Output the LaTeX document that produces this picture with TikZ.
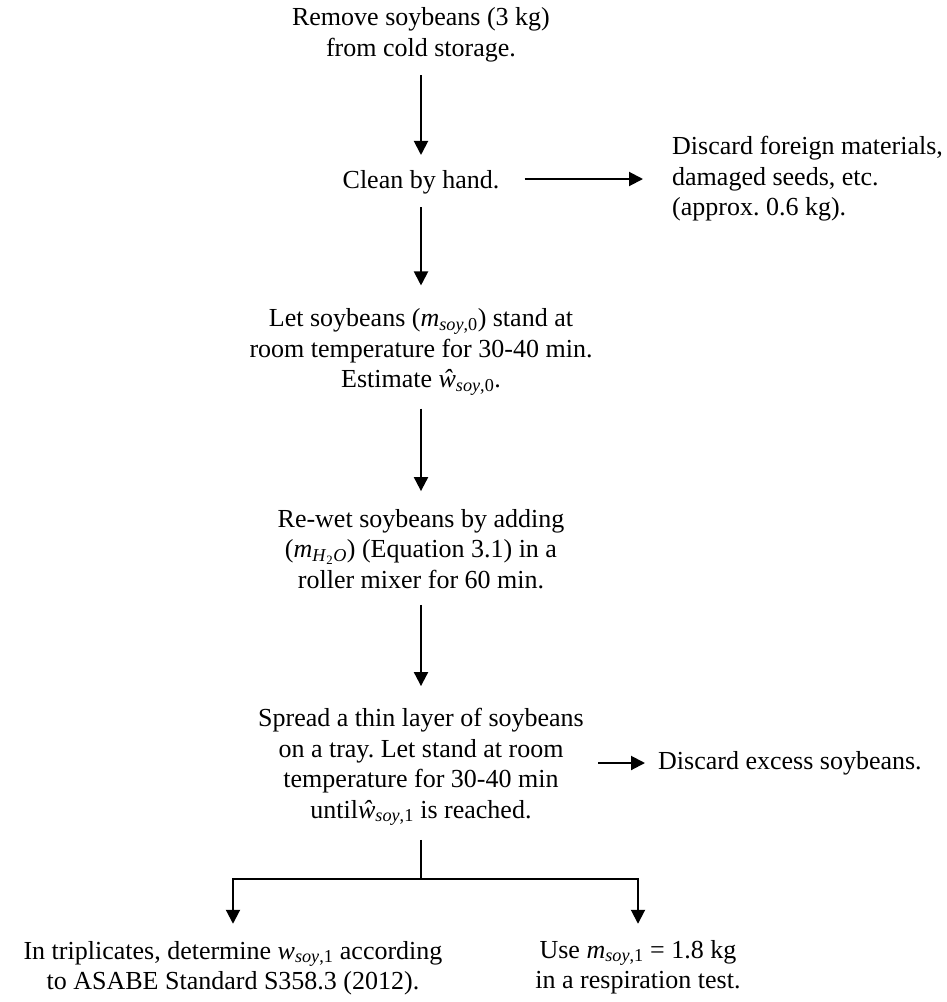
\documentclass[tikz,border=0pt]{standalone}
\usepackage{fontspec}
\setmainfont{Liberation Serif}
\usetikzlibrary{arrows.meta}
\frenchspacing
\newcommand{\sv}[2]{\textit{#1}\textsubscript{#2}}
\begin{document}
\begin{tikzpicture}[x=1pt,y=-1pt,
  txt/.style={align=center, inner sep=0pt, font=\fontsize{26}{30.5}\selectfont},
  ltxt/.style={align=left, inner sep=0pt, anchor=west, font=\fontsize{26}{30.5}\selectfont},
  conn/.style={line width=2pt},
  arr/.style={conn, -{Triangle[length=14pt,width=14pt]}},
  gap/.style 2 args={shorten <=#1, shorten >=#2}]
\useasboundingbox (0,0) rectangle (946,1002);

\node[txt] (n1) at (421,35) {Remove soybeans (3 kg)\\from cold storage.};
\node[txt] (n2) at (421,182) {Clean by hand.};
\node[ltxt] (d1) at (672,179) {Discard foreign materials,\\damaged seeds, etc.\\(approx. 0.6 kg).};
\node[txt] (n3) at (421,352) {Let soybeans (\sv{m}{\textit{soy},0}) stand at\\room temperature for 30-40 min.\\Estimate \sv{ŵ}{\textit{soy},0}.};
\node[txt] (n4) at (421,549) {Re-wet soybeans by adding\\(\sv{m}{\textit{H}\textsubscript{2}\textit{O}}) (Equation 3.1) in a\\roller mixer for 60 min.};
\node[txt] (n5) at (421,767) {Spread a thin layer of soybeans\\on a tray. Let stand at room\\temperature for 30-40 min\\until\sv{ŵ}{\textit{soy},1} is reached.};
\node[ltxt] (d2) at (658,763) {Discard excess soybeans.};
\node[txt] (n6) at (233,968) {In triplicates, determine \sv{w}{\textit{soy},1} according\\to ASABE Standard S358.3 (2012).};
\node[txt] (n7) at (638,967) {Use \sv{m}{\textit{soy},1} = 1.8 kg\\in a respiration test.};
\coordinate (j) at (421,879);

\draw[arr, gap={13pt}{15pt}] (n1) -- (n2);
\draw[arr, gap={25pt}{29pt}] (n2.east |- d1.west) -- (d1.west);
\draw[arr, gap={13pt}{23pt}] (n2) -- (n3);
\draw[arr, gap={13pt}{18pt}] (n3) -- (n4);
\draw[arr, gap={16pt}{22pt}] (n4) -- (n5);
\draw[arr, gap={14pt}{13pt}] (n5.east |- d2.west) -- (d2.west);
\draw[conn, shorten <=14pt] (n5.south) -- (j);
\draw[arr, shorten >=17pt] (j) -| (n6.north);
\draw[arr, shorten >=16pt] (j) -| (n7.north);
\end{tikzpicture}
\end{document}
